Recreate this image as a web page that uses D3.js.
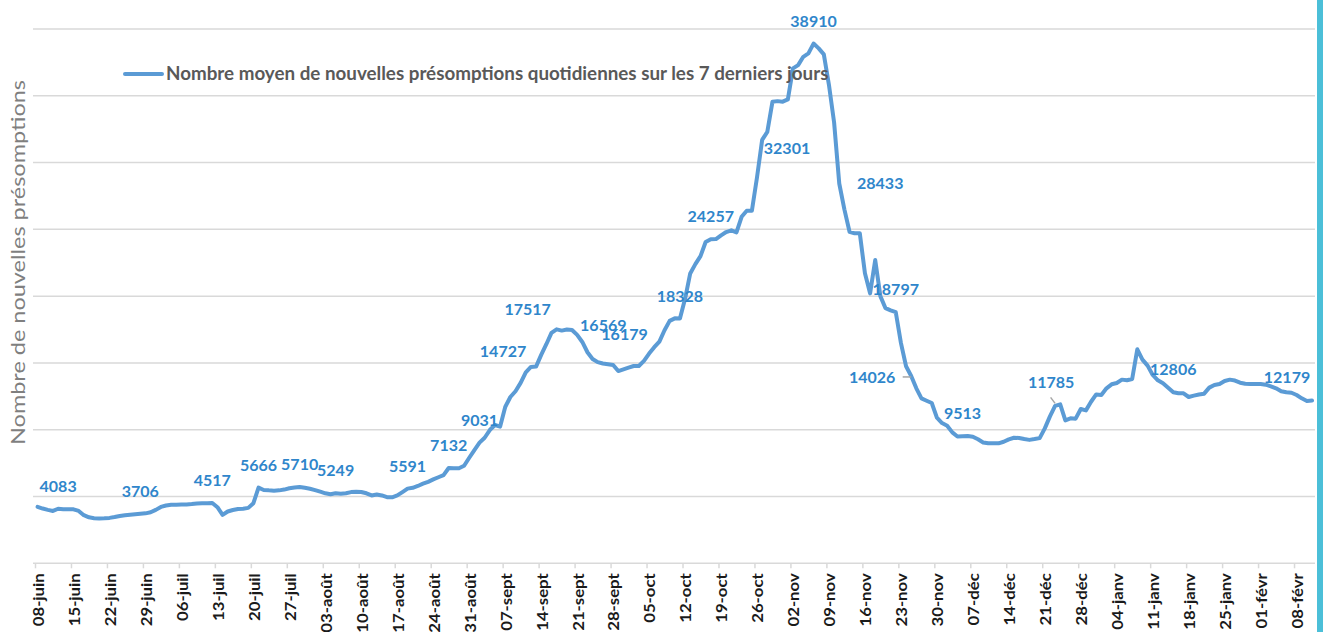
<!DOCTYPE html>
<html><head><meta charset="utf-8">
<script src="https://cdn.jsdelivr.net/npm/d3@7"></script>
<style>body{margin:0;background:#fff;} svg{display:block;}</style>
</head><body>
<svg id="chart" width="1323" height="632"></svg>
<script>
// ---------------- DATA ----------------
const startDate = "2020-06-08";
// 7-day average of daily new presumptions, one value per day from 08-juin
const seriesValues = [
 4230,4100,4000,3920,4083,4050,4040,4040,3920,3600,
 3440,3380,3360,3370,3400,3460,3540,3600,3640,3670,
 3706,3740,3820,4000,4220,4330,4380,4390,4400,4410,
 4440,4480,4500,4500,4517,4200,3620,3880,3990,4070,
 4090,4150,4500,5666,5490,5460,5440,5460,5520,5620,
 5670,5710,5650,5580,5480,5360,5240,5170,5249,5200,
 5250,5330,5350,5340,5240,5080,5150,5080,4950,4940,
 5080,5330,5591,5650,5790,5960,6100,6280,6440,6600,
 7132,7120,7111,7300,7900,8480,9031,9400,9978,10352,
 10225,11700,12450,12880,13510,14300,14700,14727,15600,16400,
 17250,17517,17420,17500,17470,17100,16569,15800,15300,15060,
 14960,14900,14843,14394,14520,14650,14768,14770,15150,15700,
 16179,16600,17450,18150,18338,18328,19800,21700,22400,23000,
 24050,24257,24270,24550,24800,24930,24775,25943,26392,26392,
 28900,31700,32301,34550,34600,34560,34730,37051,37298,37919,
 38173,38910,38548,38100,35800,33000,28433,26500,24820,24700,
 24700,21706,20210,22702,20000,19100,18930,18797,16500,14750,
 14026,13100,12350,12171,12000,10900,10500,10300,9800,9490,
 9513,9528,9476,9281,9050,8982,8982,8982,9100,9280,
 9401,9380,9300,9240,9300,9370,10100,11000,11785,11900,
 10700,10850,10830,11550,11450,12096,12640,12600,13100,13400,
 13500,13750,13700,13800,16018,15250,14800,14100,13700,13480,
 13150,12806,12725,12725,12450,12550,12640,12700,13150,13346,
 13421,13650,13750,13680,13520,13440,13421,13421,13421,13370,
 13250,13100,12880,12800,12770,12600,12350,12150,12179
];
// days (index in seriesValues) that carry a data label
const labelDays = [4,20,34,43,51,58,72,80,86,97,101,106,120,125,131,142,151,156,167,170,180,198,221,248];
const frenchMonths = ["janv","févr","mars","avr","mai","juin","juil","août","sept","oct","nov","déc"];
const yTicks = [0,5000,10000,15000,20000,25000,30000,35000,40000];
const legendLabel = "Nombre moyen de nouvelles présomptions quotidiennes sur les 7 derniers jours";
const yAxisTitle = "Nombre de nouvelles présomptions";

// ---------------- LAYOUT / STYLE ----------------
const plot = {left:33, right:1315, top:29, bottom:563.3};
const lineColor = "#5b9bd5", labelColor = "#2f86cb", gridColor = "#d9d9d9";
const font = "Lato, 'Open Sans', sans-serif";
// label placement relative to its point [dx, dy] (label centre)
const labelOffsets = {
  97:[-33,-15.5], 101:[-29,-20], 106:[21,-16.4], 120:[-29.7,-12.6],
  142:[19.7,16.2], 156:[41,0], 170:[-39,1], 198:[-4,-23.4], 248:[-25,-23]
};
const defaultOffset = [0,-22.6];

const svg = d3.select("#chart");
const parse = d3.timeParse("%Y-%m-%d");
const t0 = parse(startDate);
const tEnd = d3.timeDay.offset(t0, seriesValues.length);
const dates = seriesValues.map((v,i)=>d3.timeHour.offset(d3.timeDay.offset(t0,i),12));

const x = d3.scaleTime().domain([t0,tEnd]).range([35, 1314.6]);
const y = d3.scaleLinear().domain([0,40000]).range([plot.bottom, plot.top]);

// gridlines
svg.append("g").selectAll("line").data(yTicks.slice(1)).join("line")
  .attr("x1",plot.left).attr("x2",plot.right)
  .attr("y1",d=>y(d)).attr("y2",d=>y(d))
  .attr("stroke",gridColor).attr("stroke-width",1.5);

// x axis
const fmtDay = d3.timeFormat("%d");
const xAxis = d3.axisBottom(x)
  .tickValues(d3.timeMonday.range(t0, tEnd))
  .tickSize(5).tickSizeOuter(0)
  .tickFormat(d=>fmtDay(d)+"-"+frenchMonths[d.getMonth()]);
const gx = svg.append("g").attr("transform",`translate(0,${plot.bottom})`).call(xAxis);
gx.select(".domain").remove();
gx.selectAll(".tick line").attr("stroke",gridColor).attr("stroke-width",1.5);
svg.append("line").attr("x1",plot.left).attr("x2",plot.right)
  .attr("y1",plot.bottom).attr("y2",plot.bottom)
  .attr("stroke",gridColor).attr("stroke-width",1.5);

const tickTexts = gx.selectAll(".tick text")
  .attr("font-family",font).attr("font-weight","bold").attr("font-size",15)
  .attr("fill","#1a1a1a").attr("text-anchor","end");
// stretch factor along text direction from a sample label
let sample = tickTexts.filter((d,i)=>i===1).node();
const tickStretch = sample ? 53 / sample.getComputedTextLength() : 1.12;
tickTexts.attr("x",-10/tickStretch).attr("y",3).attr("dy","0.36em")
  .attr("transform",`rotate(-90) scale(${tickStretch},1)`);

// line
const line = d3.line().x((d,i)=>x(dates[i])).y(d=>y(d));
svg.append("path").datum(seriesValues)
  .attr("d",line).attr("fill","none")
  .attr("stroke",lineColor).attr("stroke-width",4)
  .attr("stroke-linejoin","round").attr("stroke-linecap","round");

// leader lines
function pt(day){ return [x(dates[day]), y(seriesValues[day])]; }
{
  const [px,py] = pt(170);
  svg.append("line").attr("x1",px-8.5).attr("x2",px).attr("y1",py+1).attr("y2",py+1)
    .attr("stroke","#a6a6a6").attr("stroke-width",1.5);
  const [qx,qy] = pt(198);
  svg.append("line").attr("x1",qx-4.5).attr("x2",qx).attr("y1",qy-8.5).attr("y2",qy-2.5)
    .attr("stroke","#a6a6a6").attr("stroke-width",1.5);
}

// data labels
svg.append("g").selectAll("text").data(labelDays).join("text")
  .attr("x",d=>pt(d)[0] + (labelOffsets[d]||defaultOffset)[0])
  .attr("y",d=>pt(d)[1] + (labelOffsets[d]||defaultOffset)[1])
  .attr("dy","0.36em").attr("text-anchor","middle")
  .attr("font-family",font).attr("font-weight","bold").attr("font-size",16)
  .attr("fill",labelColor)
  .text(d=>String(seriesValues[d]));

// legend
svg.append("line").attr("x1",125).attr("x2",162).attr("y1",74).attr("y2",74)
  .attr("stroke",lineColor).attr("stroke-width",4).attr("stroke-linecap","round");
const leg = svg.append("text").attr("x",166).attr("y",79.5)
  .attr("font-family",font).attr("font-weight","bold").attr("font-size",16)
  .attr("fill","#595959").text(legendLabel);
const lw = leg.node().getComputedTextLength();
leg.attr("font-size", 16*663/lw);

// y axis title
const yt = svg.append("text")
  .attr("font-family",font).attr("font-size",20).attr("fill","#7f7f7f")
  .attr("text-anchor","middle").text(yAxisTitle);
const ytw = yt.node().getComputedTextLength();
yt.attr("transform",`translate(25,262.5) rotate(-90) scale(${365/ytw},1)`);

// right border accent
svg.append("rect").attr("x",1317).attr("y",0).attr("width",6).attr("height",632).attr("fill","#4bbfd8");
</script>
</body></html>
